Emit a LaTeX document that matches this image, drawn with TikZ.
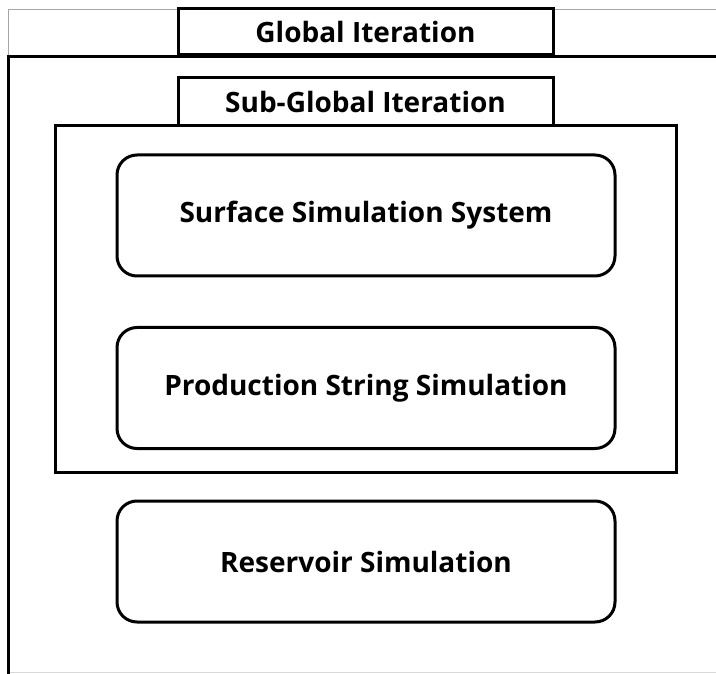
\documentclass[tikz,border=0pt]{standalone}
\usepackage{fontspec}
\setmainfont{Open Sans}
\usetikzlibrary{positioning}

\begin{document}
\begin{tikzpicture}[x=1pt,y=-1pt,
  labelfont/.style={font=\bfseries\fontsize{28}{33}\selectfont},
  tab/.style={draw,fill=white,line width=3pt,minimum width=375pt,minimum height=46pt,inner sep=0pt,labelfont},
  simbox/.style={draw,line width=3pt,rounded corners=20pt,minimum width=498pt,minimum height=121pt,inner sep=0pt,labelfont}]
\useasboundingbox (0,0) rectangle (716,674);
\draw[gray!70,line width=0.8pt] (8,55) -- (8,9) -- (716,9); % top band
\draw[gray!70,line width=0.8pt] (8,55) -- (716,55);
\draw[gray!30,line width=0.8pt] (8,672) -- (716,672); % bottom edge
\draw[line width=3pt] (8,676) -- (8,57) -- (718,57); % outer frame
\node[tab] (global) at (365.5,32) {Global Iteration};
\node[tab,minimum height=48pt] (subglobal) at (365.5,102) {Sub-Global Iteration};
\draw[line width=3pt] (55,126) rectangle (676,472); % inner frame
\node[simbox] (surface) at (366,215.5) {Surface Simulation System};
\node[simbox] (string) at (366,388) {Production String Simulation};
\node[simbox] (reservoir) at (366,561.5) {Reservoir Simulation};
\end{tikzpicture}
\end{document}
